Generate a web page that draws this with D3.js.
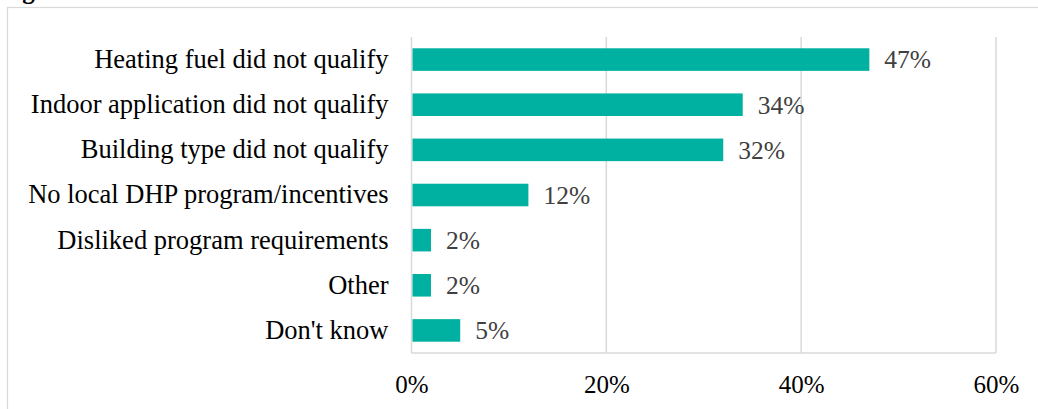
<!DOCTYPE html>
<html>
<head>
<meta charset="utf-8">
<script src="https://cdn.jsdelivr.net/npm/d3@7"></script>
<style>
  html, body { margin: 0; padding: 0; background: #fff; }
  svg { display: block; }
  text { font-family: "Liberation Serif", "Times New Roman", serif; }
</style>
</head>
<body>
<svg id="chart" width="1038" height="409"></svg>
<script>
// Reasons given for not participating
const categories = [
  "Heating fuel did not qualify",
  "Indoor application did not qualify",
  "Building type did not qualify",
  "No local DHP program/incentives",
  "Disliked program requirements",
  "Other",
  "Don't know"
];
const shares = [47, 34, 32, 12, 2, 2, 5];
const xTicks = [0, 20, 40, 60];
const titleText = "Figure";

const width = 1038, height = 409;
const margin = { top: 37, right: 42, bottom: 56, left: 411.5 };
const innerW = width - margin.left - margin.right;
const innerH = height - margin.top - margin.bottom;

const svg = d3.select("#chart");

// Chart frame
svg.append("rect")
  .attr("x", 7.5).attr("y", 7.5)
  .attr("width", width + 10).attr("height", height + 10)
  .attr("fill", "none").attr("stroke", "#d9d9d9").attr("stroke-width", 1.2);

// Title line above the frame (only its lower edge fits)
svg.append("text")
  .attr("x", 0).attr("y", -1)
  .attr("font-size", 25).attr("font-weight", "bold")
  .attr("fill", "#000")
  .text(titleText);

const g = svg.append("g").attr("transform", `translate(${margin.left},${margin.top})`);

const x = d3.scaleLinear().domain([0, 60]).range([0, innerW]);
const y = d3.scaleBand().domain(categories).range([0, innerH]).paddingInner(0.5).paddingOuter(0.25);

// Vertical gridlines
g.append("g")
  .selectAll("line")
  .data(xTicks.filter(d => d > 0))
  .join("line")
  .attr("x1", d => x(d)).attr("x2", d => x(d))
  .attr("y1", 0).attr("y2", innerH)
  .attr("stroke", "#d9d9d9").attr("stroke-width", 1.5);

// Axis lines
g.append("line")
  .attr("x1", 0).attr("x2", 0).attr("y1", 0).attr("y2", innerH)
  .attr("stroke", "#d9d9d9").attr("stroke-width", 1.5);
g.append("line")
  .attr("x1", 0).attr("x2", innerW).attr("y1", innerH).attr("y2", innerH)
  .attr("stroke", "#d9d9d9").attr("stroke-width", 1.5);

// Bars
g.append("g")
  .selectAll("rect")
  .data(categories)
  .join("rect")
  .attr("x", 1)
  .attr("y", d => y(d))
  .attr("width", (d, i) => x(shares[i]) - 1)
  .attr("height", y.bandwidth())
  .attr("fill", "#00b0a0");

// Value labels
g.append("g")
  .selectAll("text")
  .data(categories)
  .join("text")
  .attr("x", (d, i) => x(shares[i]) + 15)
  .attr("y", d => y(d) + y.bandwidth() / 2)
  .attr("dy", "0.35em")
  .attr("font-size", 25.5)
  .attr("fill", "#404040")
  .text((d, i) => shares[i] + "%");

// Category axis
const yAxis = g.append("g").call(d3.axisLeft(y).tickSize(0).tickPadding(23));
yAxis.select(".domain").remove();
yAxis.selectAll("text")
  .attr("font-family", "Liberation Serif, Times New Roman, serif")
  .attr("font-size", 26.5)
  .attr("fill", "#000");

// Value axis
const xAxis = g.append("g")
  .attr("transform", `translate(0,${innerH})`)
  .call(d3.axisBottom(x).tickValues(xTicks).tickFormat(d => d + "%").tickSize(0).tickPadding(22));
xAxis.select(".domain").remove();
xAxis.selectAll("text")
  .attr("font-family", "Liberation Serif, Times New Roman, serif")
  .attr("font-size", 25)
  .attr("fill", "#000");
</script>
</body>
</html>
